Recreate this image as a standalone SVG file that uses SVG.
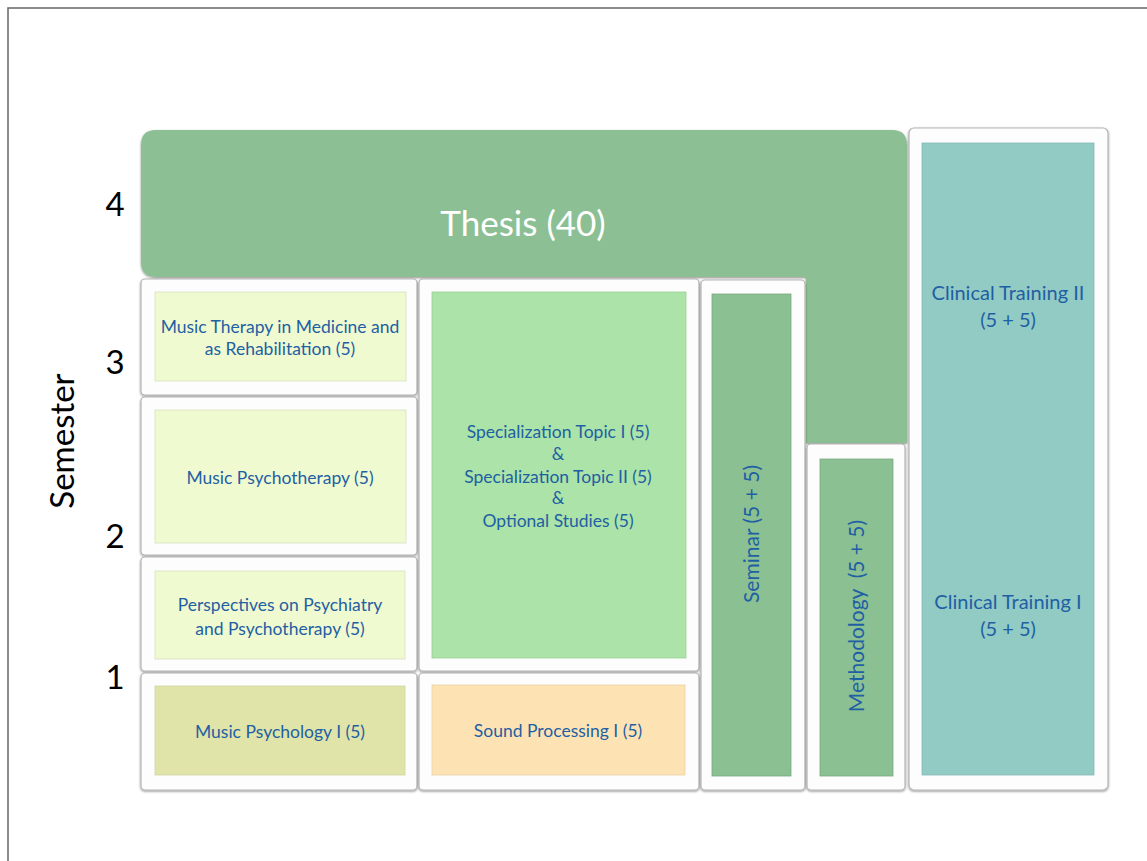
<svg xmlns="http://www.w3.org/2000/svg" width="1147" height="861" viewBox="0 0 1147 861">
<defs>
<filter id="sh" x="-10%" y="-10%" width="120%" height="120%">
<feDropShadow dx="0" dy="1" stdDeviation="1.2" flood-color="#000" flood-opacity="0.45"/>
</filter>
</defs>
<style>
.card{fill:#fdfdfd;stroke:#b5b5b5;stroke-width:1.2;filter:url(#sh)}
.t{font-family:Lato,"Open Sans",sans-serif;font-size:17.5px;fill:#1f5fa3;text-anchor:middle}
.b{font-size:20px}
.r{font-size:21px}
.num{font-family:Lato,"Open Sans",sans-serif;font-size:33px;fill:#000;text-anchor:middle}
</style>
<rect width="1147" height="861" fill="#fff"/>
<path d="M8,870 V8 H1150" fill="none" stroke="#666" stroke-width="1.5"/>
<g id="axis">
<text class="num" x="115" y="216">4</text>
<text class="num" x="115" y="374">3</text>
<text class="num" x="115" y="548">2</text>
<text class="num" x="115" y="689">1</text>
<text class="num" x="0" y="0" font-size="35" transform="translate(74,441) rotate(-90)">Semester</text>
</g>
<g id="thesis">
<path d="M156,130 H892 Q907,130 907,145 V443 H806 V277 H156 Q141,277 141,262 V145 Q141,130 156,130 Z" fill="#8cc094" filter="url(#sh)"/>
<text x="523" y="236" font-family="Lato,'Open Sans',sans-serif" font-size="35" fill="#fff" text-anchor="middle">Thesis (40)</text>
</g>
<g id="music-therapy-medicine">
<rect class="card" x="141" y="279" width="276" height="116" rx="4"/>
<rect x="155" y="292" width="251" height="89" fill="#effad1" stroke="#d8e0c0" stroke-width="0.8"/>
<text class="t" x="280" y="333">Music Therapy in Medicine and</text>
<text class="t" x="280" y="355">as Rehabilitation (5)</text>
</g>
<g id="music-psychotherapy">
<rect class="card" x="141" y="397" width="276" height="158" rx="4"/>
<rect x="155" y="410" width="251" height="133" fill="#effad1" stroke="#d8e0c0" stroke-width="0.8"/>
<text class="t" x="280" y="484">Music Psychotherapy (5)</text>
</g>
<g id="perspectives">
<rect class="card" x="141" y="557" width="276" height="114" rx="4"/>
<rect x="155" y="571" width="250" height="88" fill="#effad1" stroke="#d8e0c0" stroke-width="0.8"/>
<text class="t" x="280" y="611">Perspectives on Psychiatry</text>
<text class="t" x="280" y="635">and Psychotherapy (5)</text>
</g>
<g id="music-psychology">
<rect class="card" x="141" y="673" width="276" height="117" rx="4"/>
<rect x="155" y="686" width="250" height="89" fill="#e0e4a8" stroke="#d0d4a0" stroke-width="0.8"/>
<text class="t" x="280" y="738">Music Psychology I (5)</text>
</g>
<g id="specialization">
<rect class="card" x="419" y="279" width="280" height="392" rx="4"/>
<rect x="432" y="292" width="254" height="366" fill="#abe3a8" stroke="#98cf96" stroke-width="0.8"/>
<text class="t" x="558" y="438">Specialization Topic I (5)</text>
<text class="t" x="558" y="460">&amp;</text>
<text class="t" x="558" y="483">Specialization Topic II (5)</text>
<text class="t" x="558" y="504">&amp;</text>
<text class="t" x="558" y="527">Optional Studies (5)</text>
</g>
<g id="sound-processing">
<rect class="card" x="419" y="673" width="280" height="117" rx="4"/>
<rect x="432" y="685" width="253" height="90" fill="#fde3b4" stroke="#e8d0a4" stroke-width="0.8"/>
<text class="t" x="558" y="737">Sound Processing I (5)</text>
</g>
<g id="seminar">
<rect class="card" x="701" y="280" width="104" height="510" rx="4"/>
<rect x="712" y="294" width="79" height="482" fill="#8bc093" stroke="#7aa882" stroke-width="0.8"/>
<text class="t r" x="0" y="0" transform="translate(759,534) rotate(-90)">Seminar (5 + 5)</text>
</g>
<g id="methodology">
<rect class="card" x="807" y="444" width="98" height="346" rx="4"/>
<rect x="820" y="459" width="73" height="317" fill="#8bc093" stroke="#7aa882" stroke-width="0.8"/>
<text class="t r" x="0" y="0" transform="translate(864,616) rotate(-90)" xml:space="preserve">Methodology  (5 + 5)</text>
</g>
<g id="clinical-training">
<rect class="card" x="909" y="128" width="199" height="662" rx="5"/>
<rect x="922" y="143" width="172" height="632" fill="#92cac4" stroke="#84bab4" stroke-width="0.8"/>
<text class="t b" x="1008" y="300">Clinical Training II</text>
<text class="t b" x="1008" y="327">(5 + 5)</text>
<text class="t b" x="1008" y="609">Clinical Training I</text>
<text class="t b" x="1008" y="636">(5 + 5)</text>
</g>
<g id="connectors"></g>
</svg>
